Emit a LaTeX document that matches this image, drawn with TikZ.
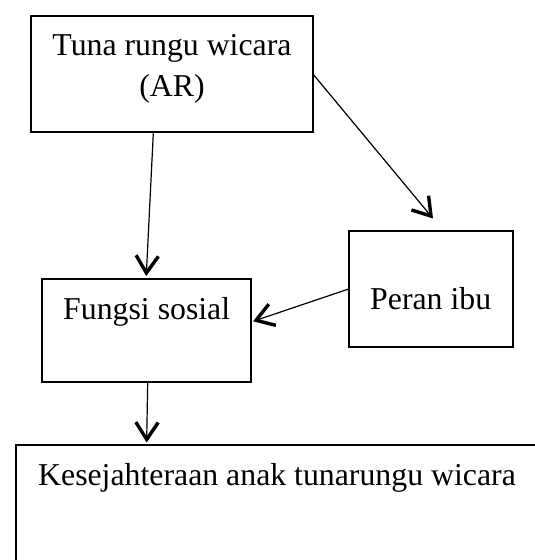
\documentclass[tikz,border=0pt]{standalone}
\usepackage{fontspec}
\setmainfont{Liberation Serif}
\usetikzlibrary{calc}
\tikzset{
  boxnode/.style={draw, line width=2pt, rectangle, inner sep=0pt},
  txt/.style={anchor=base, inner sep=0pt, font=\fontsize{31.8}{41.7}\selectfont},
  connline/.style={line width=1.2pt},
  conntip/.style={line width=3.4pt, line join=miter, line cap=butt}
}
\newcommand{\myconn}[2]{%
  \draw[connline] (#1) -- (#2);
  \draw[conntip] ($(#2)!20.5pt!33:(#1)$) -- (#2) -- ($(#2)!20.5pt!-33:(#1)$);
}
\begin{document}
\begin{tikzpicture}[x=1pt,y=-1pt]
\useasboundingbox (0,0) rectangle (535,560);
\clip (0,0) rectangle (535,560);
\fill[white] (0,0) rectangle (535,560);
% boxes
\node[boxnode, minimum width=281.7pt, minimum height=116.6pt] (b1) at (171.9,74) {};
\node[boxnode, minimum width=164pt, minimum height=116.3pt] (b2) at (431,289.2) {};
\node[boxnode, minimum width=209.3pt, minimum height=102.7pt] (b3) at (146.4,330.3) {};
\node[boxnode, minimum width=528pt, minimum height=170pt, anchor=north west] (b4) at (14.7,444) {};
% texts
\node[txt] (t1a) at (172,55) {Tuna rungu wicara};
\node[txt] (t1b) at (172,96.7) {(AR)};
\node[txt] (t2) at (430.7,309) {Peran ibu};
\node[txt] (t3) at (146.7,319.3) {Fungsi sosial};
\node[txt] (t4) at (277,485) {Kesejahteraan anak tunarungu wicara};
% connector end points
\coordinate (s1) at ([xshift=-18.6pt]b1.south);
\coordinate (e1) at ([yshift=5pt]b3.north);
\coordinate (s2) at ([yshift=-1pt]b1.east);
\coordinate (e2) at ([yshift=14pt]b2.north);
\coordinate (s3) at (b2.west);
\coordinate (e3) at ([xshift=4pt,yshift=10pt]b3.east);
\coordinate (s4) at ([xshift=1.3pt]b3.south);
\coordinate (e4) at ([xshift=132pt,yshift=4.5pt]b4.north west);
% connectors
\myconn{s1}{e1}
\myconn{s2}{e2}
\myconn{s3}{e3}
\myconn{s4}{e4}
\end{tikzpicture}
\end{document}
